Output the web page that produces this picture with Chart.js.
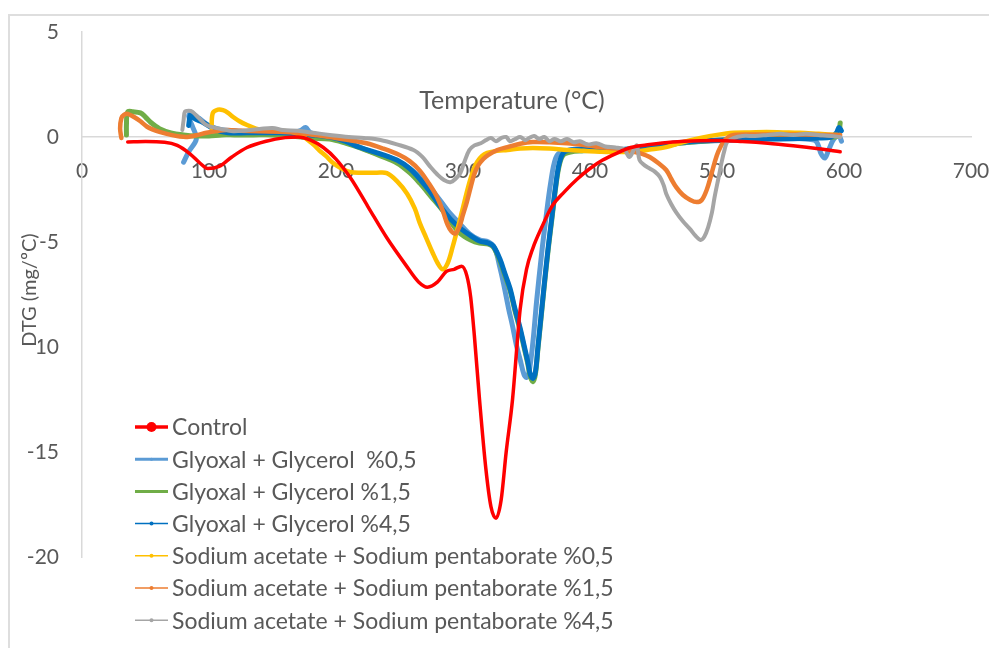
<!DOCTYPE html>
<html>
<head>
<meta charset="utf-8">
<title>DTG curves</title>
<script src="https://cdn.jsdelivr.net/npm/chart.js@4/dist/chart.umd.min.js"></script>
<style>
  html, body { margin: 0; padding: 0; background: #fff; }
  #wrap { position: relative; width: 989px; height: 648px; overflow: hidden; }
  #frame { position: absolute; left: 8px; top: 14px; width: 990px; height: 640px;
           border-top: 2px solid #dedede; border-left: 2px solid #dedede; }
  #c { position: absolute; left: 0; top: 0; }
</style>
</head>
<body>
<div id="wrap">
  <div id="frame"></div>
  <canvas id="c" width="989" height="648"></canvas>
</div>
<script>
// ---- axis settings ----
const xTitle = 'Temperature (°C)';
const yTitle = 'DTG (mg/ºC)';
const xMin = 0, xMax = 700, xStep = 100;
const yMin = -20, yMax = 5, yStep = 5;

// ---- series labels ----
const seriesNames = [
  'Control',
  'Glyoxal + Glycerol  %0,5',
  'Glyoxal + Glycerol %1,5',
  'Glyoxal + Glycerol %4,5',
  'Sodium acetate + Sodium pentaborate %0,5',
  'Sodium acetate + Sodium pentaborate %1,5',
  'Sodium acetate + Sodium pentaborate %4,5'
];

// ---- Control ----
const controlT = [36, 50, 65, 75, 85, 93, 99, 108, 118, 130, 145, 160, 170, 180, 190, 200, 212, 225, 240, 255, 265, 272, 280, 287, 293, 299, 303, 306, 309, 313, 318, 322, 326, 330, 334, 339, 345, 350, 355, 362, 370, 380, 390, 400, 410, 420, 432, 447, 465, 487, 500, 520, 540, 560, 580, 597];
const controlV = [-0.24, -0.22, -0.25, -0.4, -0.8, -1.25, -1.5, -1.4, -0.95, -0.5, -0.2, -0.03, 0.0, -0.15, -0.5, -1.05, -2.0, -3.3, -4.8, -6.1, -6.9, -7.15, -6.9, -6.4, -6.3, -6.15, -6.6, -7.6, -9.5, -12.5, -15.8, -17.6, -18.15, -17.3, -15.0, -12.5, -8.2, -6.3, -5.3, -4.3, -3.3, -2.6, -2.0, -1.5, -1.1, -0.8, -0.5, -0.36, -0.24, -0.18, -0.17, -0.22, -0.3, -0.42, -0.56, -0.7];

// ---- Glyoxal + Glycerol 0.5 % ----
const gly05T = [80, 84, 90, 87, 84, 86, 92, 100, 110, 120, 135, 150, 165, 172, 176, 180, 190, 200, 215, 230, 245, 258, 268, 278, 288, 297, 305, 313, 320, 325, 329, 332, 336, 339, 342, 345, 348, 350, 352, 355, 358, 362, 365, 369, 373, 378, 395, 410, 425, 440, 455, 470, 490, 510, 530, 550, 570, 578, 582, 585, 588, 592, 596, 598];
const gly05V = [-1.2, -0.7, -0.1, 0.5, 1.0, 1.15, 0.9, 0.55, 0.35, 0.3, 0.25, 0.25, 0.2, 0.3, 0.45, 0.2, 0.05, -0.1, -0.4, -0.75, -1.05, -1.5, -2.0, -2.7, -3.5, -4.1, -4.6, -4.9, -5.0, -5.3, -6.2, -7.0, -8.2, -9.0, -9.9, -10.6, -11.3, -11.45, -11.2, -9.8, -7.8, -5.5, -4.0, -2.2, -1.0, -0.7, -0.55, -0.6, -0.65, -0.6, -0.45, -0.3, -0.2, -0.15, -0.1, -0.05, -0.1, -0.2, -0.8, -1.0, -0.6, -0.1, 0.05, -0.2];

// ---- Glyoxal + Glycerol 1.5 % ----
const gly15T = [35, 35, 36, 40, 46, 50, 54, 61, 70, 80, 90, 100, 110, 120, 135, 150, 165, 180, 195, 208, 219, 235, 248, 258, 266, 275, 284, 291, 298, 306, 313, 320, 324, 329, 333, 337, 341, 345, 348, 351, 353, 355, 357, 359, 361, 364, 367, 370, 373, 376, 380, 395, 410, 425, 440, 455, 470, 485, 500, 520, 540, 560, 580, 595, 597];
const gly15V = [0.1, 0.6, 1.2, 1.2, 1.15, 0.95, 0.7, 0.4, 0.2, 0.1, 0.05, 0.05, 0.1, 0.1, 0.1, 0.1, 0.05, -0.05, -0.1, -0.3, -0.52, -0.9, -1.24, -1.7, -2.2, -2.85, -3.5, -4.1, -4.6, -4.9, -5.05, -5.1, -5.25, -5.9, -6.6, -7.3, -8.3, -9.2, -10.0, -10.8, -11.4, -11.65, -11.3, -10.1, -8.9, -7.1, -5.4, -3.9, -2.4, -1.3, -0.8, -0.65, -0.65, -0.6, -0.55, -0.45, -0.3, -0.22, -0.15, -0.1, -0.08, -0.05, -0.02, 0.05, 0.67];

// ---- Glyoxal + Glycerol 4.5 % ----
const gly45T = [84, 85, 86, 88, 95, 105, 115, 130, 145, 156, 170, 180, 195, 207, 219, 235, 248, 258, 266, 274, 282, 290, 298, 306, 313, 320, 324, 329, 333, 337, 341, 345, 348, 351, 353, 355, 357, 359, 361, 364, 367, 370, 373, 376, 380, 390, 405, 420, 435, 450, 465, 480, 500, 520, 540, 560, 580, 590, 594, 596, 598];
const gly45V = [0.55, 1.0, 1.1, 0.9, 0.7, 0.35, 0.2, 0.2, 0.2, 0.2, 0.15, 0.1, 0.0, -0.2, -0.5, -0.8, -1.1, -1.5, -2.0, -2.6, -3.3, -3.9, -4.35, -4.7, -4.95, -5.05, -5.2, -5.8, -6.5, -7.2, -8.2, -9.1, -9.9, -10.7, -11.3, -11.5, -11.2, -10.0, -8.8, -7.0, -5.3, -3.8, -2.3, -1.2, -0.7, -0.6, -0.6, -0.6, -0.55, -0.45, -0.3, -0.22, -0.15, -0.12, -0.1, -0.08, -0.05, 0.0, 0.2, 0.45, 0.3];

// ---- Sodium acetate + Sodium pentaborate 0.5 % ----
const sa05T = [102, 103, 107, 111, 115, 119, 124, 130, 137, 145, 155, 165, 172, 178, 183, 187, 192, 197, 203, 211, 222, 232, 240, 248, 256, 262, 266, 271, 276, 280, 284, 288, 292, 296, 299, 304, 308, 311, 315, 319, 327, 335, 345, 355, 368, 382, 395, 408, 420, 434, 447, 460, 473, 487, 500, 513, 526, 539, 552, 565, 580, 595];
const sa05V = [0.43, 1.14, 1.3, 1.28, 1.15, 0.95, 0.75, 0.57, 0.4, 0.3, 0.3, 0.25, 0.1, -0.15, -0.4, -0.65, -0.9, -1.2, -1.45, -1.67, -1.7, -1.7, -1.72, -2.1, -2.7, -3.4, -4.1, -4.8, -5.5, -6.0, -6.3, -6.0, -5.2, -4.3, -3.6, -2.4, -1.6, -1.2, -0.9, -0.76, -0.66, -0.62, -0.55, -0.52, -0.55, -0.62, -0.66, -0.7, -0.72, -0.7, -0.6, -0.48, -0.25, -0.05, 0.1, 0.2, 0.22, 0.24, 0.22, 0.2, 0.15, 0.1];

// ---- Sodium acetate + Sodium pentaborate 1.5 % ----
const sa15T = [31, 30, 31, 33, 36, 41, 46, 51, 56, 61, 70, 77, 83, 90, 98, 106, 114, 125, 140, 156, 170, 183, 195, 210, 224, 237, 250, 258, 266, 273, 279, 284, 288, 291, 294, 297, 300, 303, 306, 309, 312, 316, 320, 327, 335, 345, 355, 368, 382, 395, 408, 420, 434, 441, 447, 454, 460, 464, 468, 473, 479, 484, 488, 492, 495, 498, 501, 505, 509, 513, 530, 550, 570, 585, 597];
const sa15V = [-0.05, 0.4, 0.9, 1.05, 1.1, 0.95, 0.75, 0.5, 0.35, 0.24, 0.1, 0.02, 0.0, 0.08, 0.2, 0.28, 0.33, 0.3, 0.27, 0.25, 0.2, 0.1, 0.0, -0.15, -0.3, -0.55, -0.86, -1.15, -1.6, -2.2, -2.8, -3.5, -4.2, -4.5, -4.6, -4.3, -3.7, -3.1, -2.4, -1.75, -1.35, -1.05, -0.85, -0.62, -0.48, -0.32, -0.24, -0.25, -0.3, -0.38, -0.48, -0.55, -0.7, -0.8, -0.95, -1.25, -1.57, -2.0, -2.4, -2.75, -3.0, -3.1, -3.0, -2.5, -1.9, -1.24, -0.7, -0.24, 0.0, 0.1, 0.12, 0.12, 0.12, 0.1, 0.1];

// ---- Sodium acetate + Sodium pentaborate 4.5 % ----
const sa45T = [79, 80, 81, 84, 87, 92, 98, 106, 114, 119, 128, 140, 150, 158, 170, 182, 195, 210, 222, 235, 248, 261, 268, 274, 280, 285, 290, 294, 298, 301, 305, 309, 314, 318, 322, 326, 330, 334, 337, 341, 345, 349, 352, 356, 360, 364, 368, 372, 377, 382, 387, 392, 398, 405, 412, 420, 427, 431, 435, 437, 439, 443, 447, 451, 455, 458, 460, 464, 468, 473, 479, 483, 487, 490, 493, 496, 498, 501, 504, 506, 508, 513, 520, 530, 540, 550, 560, 570, 580, 590, 597];
const sa45V = [0.33, 0.8, 1.2, 1.25, 1.2, 0.9, 0.57, 0.42, 0.33, 0.27, 0.3, 0.38, 0.43, 0.33, 0.3, 0.2, 0.1, 0.0, -0.05, -0.14, -0.35, -0.62, -0.95, -1.4, -1.8, -2.05, -2.15, -2.0, -1.7, -1.2, -0.62, -0.4, -0.3, -0.15, -0.05, -0.2, -0.05, 0.0, -0.2, -0.1, 0.0, -0.15, -0.05, 0.05, -0.1, 0.0, -0.2, -0.1, -0.2, -0.1, -0.25, -0.2, -0.35, -0.3, -0.45, -0.5, -0.6, -0.95, -0.55, -0.4, -1.1, -1.35, -1.5, -1.65, -1.9, -2.3, -2.7, -3.2, -3.6, -4.0, -4.4, -4.7, -4.9, -4.75, -4.3, -3.6, -2.9, -2.0, -1.1, -0.6, -0.24, -0.05, 0.05, 0.05, 0.1, 0.15, 0.1, 0.15, 0.1, 0.05, 0.0];

// ---- styles per series ----
const seriesColors = ['#FF0000', '#5B9BD5', '#70AD47', '#0070C0', '#FFC000', '#ED7D31', '#A5A5A5'];
const lineWidths = [3.5, 5, 5, 5, 4.5, 4.5, 4];
const drawOrder = [0, 6, 5, 4, 3, 2, 1];
const legendLineWidths = [3.5, 3, 3, 1.5, 1.5, 1.5, 1.5];
const legendDotRadius = [5, 1.5, 1.5, 2, 2, 2, 2];

const seriesT = [controlT, gly05T, gly15T, gly45T, sa05T, sa15T, sa45T];
const seriesV = [controlV, gly05V, gly15V, gly45V, sa05V, sa15V, sa45V];

const FONT = 'Lato, "Open Sans", sans-serif';
const TEXT = '#595959';

const datasets = seriesNames.map((name, i) => ({
  label: name,
  data: seriesT[i].map((t, k) => ({ x: t, y: seriesV[i][k] })),
  borderColor: seriesColors[i],
  backgroundColor: seriesColors[i],
  borderWidth: lineWidths[i],
  pointRadius: 0,
  showLine: true,
  fill: false,
  order: drawOrder[i],
  tension: i === 0 ? 0 : 0.35,
  cubicInterpolationMode: i === 0 ? 'monotone' : 'default',
  borderCapStyle: 'round',
  borderJoinStyle: 'round'
}));

// keep the plot box fixed: no extra room for overhanging tick labels
function noOverhang(scale) {
  scale.paddingLeft = 0;
  scale.paddingRight = 0;
  scale.paddingTop = 0;
  scale.paddingBottom = 0;
}

// titles and in-plot legend
const annotate = {
  id: 'annotate',
  afterDraw(chart) {
    const ctx = chart.ctx;
    ctx.save();
    ctx.fillStyle = TEXT;
    ctx.textBaseline = 'middle';
    ctx.textAlign = 'center';
    ctx.font = '25px ' + FONT;
    ctx.fillText(xTitle, 512, 101);

    // vertical axis title on an opaque box
    ctx.save();
    ctx.translate(30, 290);
    ctx.rotate(-Math.PI / 2);
    ctx.font = '20px ' + FONT;
    const w = ctx.measureText(yTitle).width;
    ctx.fillStyle = '#ffffff';
    ctx.fillRect(-w / 2 - 2, -9, w + 4, 17);
    ctx.fillStyle = TEXT;
    ctx.fillText(yTitle, 0, 0);
    ctx.restore();

    ctx.textAlign = 'left';
    ctx.font = '23px ' + FONT;
    const x0 = 135, x1 = 168, tx = 172, y0 = 427, dy = 32.2;
    seriesNames.forEach((name, i) => {
      const y = y0 + i * dy;
      ctx.strokeStyle = seriesColors[i];
      ctx.lineWidth = legendLineWidths[i];
      ctx.beginPath();
      ctx.moveTo(x0, y);
      ctx.lineTo(x1, y);
      ctx.stroke();
      ctx.fillStyle = seriesColors[i];
      ctx.beginPath();
      ctx.arc((x0 + x1) / 2, y, legendDotRadius[i], 0, Math.PI * 2);
      ctx.fill();
      ctx.fillStyle = TEXT;
      ctx.fillText(name, tx, y + 1);
    });
    ctx.restore();
  }
};

new Chart(document.getElementById('c'), {
  type: 'scatter',
  data: { datasets },
  plugins: [annotate],
  options: {
    responsive: false,
    animation: false,
    layout: { padding: { left: 0, top: 32, right: 18, bottom: 91 } },
    plugins: { legend: { display: false }, tooltip: { enabled: false }, title: { display: false } },
    scales: {
      x: {
        type: 'linear',
        min: xMin, max: xMax,
        position: { y: 0 },
        afterFit: noOverhang,
        grid: { display: true, drawOnChartArea: false, drawTicks: false, color: 'transparent' },
        border: { display: true, color: '#d9d9d9', width: 1.5 },
        ticks: { stepSize: xStep, padding: 22, color: TEXT, font: { family: FONT, size: 21 } }
      },
      y: {
        type: 'linear',
        min: yMin, max: yMax,
        afterFit(scale) { scale.width = 82; noOverhang(scale); },
        grid: { display: true, drawOnChartArea: false, drawTicks: false, color: 'transparent' },
        border: { display: true, color: '#d9d9d9', width: 1.5 },
        ticks: { stepSize: yStep, padding: 23, color: TEXT, font: { family: FONT, size: 21 } }
      }
    }
  }
});
</script>
</body>
</html>
